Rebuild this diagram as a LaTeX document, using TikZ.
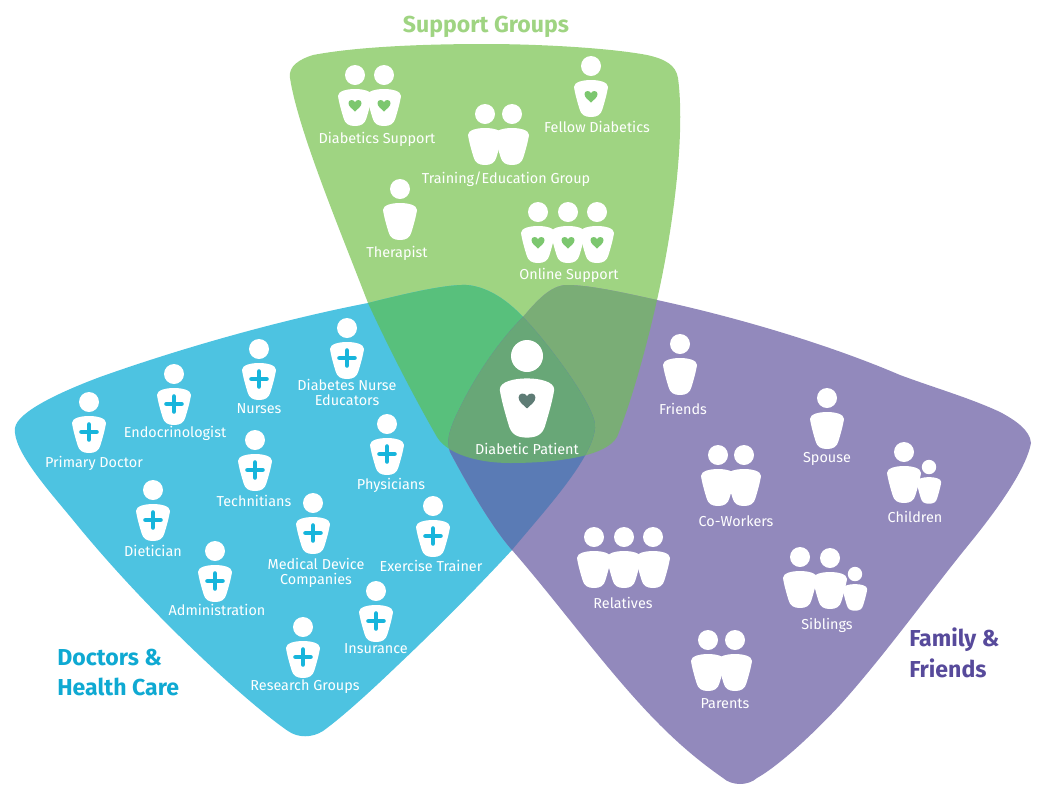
\documentclass[tikz,border=0pt]{standalone}
\usepackage{fontspec}
\setmainfont{Fira Sans}
\usepackage{xcolor}
\definecolor{verde}{HTML}{9FD482}
\definecolor{azzurro}{HTML}{4DC3E1}
\definecolor{viola}{HTML}{9289BC}
\definecolor{verdeazz}{HTML}{58C07C}
\definecolor{verdevio}{HTML}{7AAD76}
\definecolor{azzvio}{HTML}{5A7BB5}
\definecolor{centro}{HTML}{68A777}
\definecolor{croce}{HTML}{17B5DC}
\definecolor{cuoregreen}{HTML}{7CC76F}
\definecolor{cuorecentro}{HTML}{5E7C75}
\definecolor{titblue}{HTML}{0FA9D2}
\definecolor{titviola}{HTML}{574A9B}
\begin{document}
\begin{tikzpicture}[x=0.75pt,y=-0.75pt]
%===DEF. COMPONENTS====
\def\persona(#1,#2,#3){
 \begin{scope}[shift={(#1,#2)},scale=#3]
 \fill[white] (0,0) circle[radius=10];
 \fill[white] (-17,21) .. controls (-17,16) and (-8,14) .. (0,14) .. controls (8,14) and (17,16) .. (17,21)
 .. controls (16,28) and (13,38) .. (11.5,43) .. controls (10,49) and (6,51) .. (0,51)
 .. controls (-6,51) and (-10,49) .. (-11.5,43) .. controls (-13,38) and (-16,28) .. (-17,21) -- cycle;
 \end{scope}
}
\def\cuore(#1,#2,#3,#4){
 \begin{scope}[shift={(#1,#2)},scale=#3]
 \fill[#4] (0,36.5) .. controls (-3,33.5) and (-6.5,31.5) .. (-6.5,28) .. controls (-6.5,24.5) and (-1.5,24) .. (0,27)
 .. controls (1.5,24) and (6.5,24.5) .. (6.5,28) .. controls (6.5,31.5) and (3,33.5) .. (0,36.5) -- cycle;
 \end{scope}
}
\def\medico(#1,#2){
 \persona(#1,#2,1)
 \begin{scope}[shift={(#1,#2)}]
 \draw[croce,line width=3.4pt,line cap=round] (-7.5,30) -- (7.5,30);
 \draw[croce,line width=3.4pt,line cap=round] (0,22.5) -- (0,37.5);
 \end{scope}
}
\def\amico(#1,#2){
 \persona(#1,#2,1)
 \cuore(#1,#2,1,cuoregreen)
}
%===zones===
\def\zonagreen{(290,78) .. controls (288,66) and (300,59) .. (313,55) .. controls (355,47) and (420,44) .. (485,44)
 .. controls (540,44) and (610,48) .. (647,55) .. controls (665,59) and (676,65) .. (678,78)
 .. controls (685,130) and (675,220) .. (657,300) .. controls (647,345) and (632,400) .. (617,437)
 .. controls (605,458) and (550,463) .. (510,463) .. controls (480,463) and (448,455) .. (437,437)
 .. controls (410,390) and (385,340) .. (368,303) .. controls (340,230) and (298,130) .. (290,78) -- cycle}
\def\zonablue{(15,428) .. controls (17,412) and (60,392) .. (100,377) .. controls (190,345) and (290,318) .. (368,303)
 .. controls (400,295) and (445,284) .. (467,285) .. controls (490,287) and (510,303) .. (523,317)
 .. controls (550,345) and (598,410) .. (595,428) .. controls (592,460) and (545,510) .. (512,550)
 .. controls (475,590) and (435,630) .. (398,665) .. controls (375,687) and (345,715) .. (323,731)
 .. controls (312,738) and (298,738) .. (288,731) .. controls (250,705) and (150,615) .. (73,520)
 .. controls (50,492) and (12,450) .. (15,428) -- cycle}
\def\zonaviola{(567,285) .. controls (590,285) and (625,293) .. (657,300) .. controls (740,318) and (830,345) .. (900,375)
 .. controls (935,388) and (970,398) .. (1000,412) .. controls (1015,420) and (1030,430) .. (1031,443)
 .. controls (1027,465) and (1005,500) .. (970,543)
 .. controls (930,592) and (885,655) .. (840,705) .. controls (815,732) and (780,765) .. (757,778)
 .. controls (748,786) and (732,786) .. (723,778) .. controls (700,762) and (680,745) .. (660,725)
 .. controls (610,675) and (560,605) .. (512,550)
 .. controls (490,525) and (465,480) .. (450,452) .. controls (446,440) and (450,430) .. (455,418)
 .. controls (470,385) and (495,345) .. (523,317) .. controls (535,303) and (550,285) .. (567,285) -- cycle}
\tikzset{nome/.style={text=white,font=\fontsize{10.8pt}{11.2pt}\selectfont,inner sep=0pt,align=center},
 titolo/.style={font=\fontsize{17.3pt}{17.3pt}\selectfont\bfseries,inner sep=0pt,anchor=west}}
\useasboundingbox (0,0) rectangle (1051,794);
\fill[verde] \zonagreen;
\fill[azzurro] \zonablue;
\fill[viola] \zonaviola;
%===overlaps===
\begin{scope}
 \clip \zonagreen;
 \fill[verdeazz] \zonablue;
 \fill[verdevio] \zonaviola;
\end{scope}
\begin{scope}
 \clip \zonablue;
 \fill[azzvio] \zonaviola;
\end{scope}
\begin{scope}
 \clip \zonagreen;
 \clip \zonablue;
 \fill[centro] \zonaviola;
\end{scope}
%===support groups===
\amico(384,75) \amico(355,75)
\amico(591,66)
\persona(485,114,1) \persona(512,114,1)
\persona(400,189,1)
\amico(538,212) \amico(568,212) \amico(597,212)
%===doctors===
\medico(89,402) \medico(174,374) \medico(259,349) \medico(347,328)
\medico(255,440) \medico(387,424) \medico(153,490) \medico(313,503)
\medico(433,506) \medico(215,551) \medico(376,591) \medico(303,627)
%===family===
\persona(680,344,1) \persona(827,398,1)
\persona(904,452,1) \persona(929,467,0.72)
\persona(718,455,1) \persona(744,455,1)
\persona(594,537,1) \persona(624,537,1) \persona(653,537,1)
\persona(800,557,1) \persona(830,558,1) \persona(855,574,0.72)
\persona(708,640,1) \persona(735,640,1)
%===patient===
\persona(527,356,1.6)
\cuore(527,361,1.3,cuorecentro)
%===texts===
\node[nome] (diabsupport) at (377,139) {Diabetics Support};
\node[nome] (fellow) at (597,127) {Fellow Diabetics};
\node[nome] (training) at (506,179) {Training/Education Group};
\node[nome] (therapist) at (397,253) {Therapist};
\node[nome] (online) at (569,275) {Online Support};
\node[nome] (patient) at (527,449) {Diabetic Patient};
\node[nome] (primary) at (94,463) {Primary Doctor};
\node[nome] (endo) at (175,433) {Endocrinologist};
\node[nome] (nurses) at (259,409) {Nurses};
\node[nome] (educators) at (347,392.5) {Diabetes Nurse\\Educators};
\node[nome] (tech) at (254,501) {Technitians};
\node[nome] (phys) at (391,485) {Physicians};
\node[nome] (dietician) at (153,551) {Dietician};
\node[nome] (device) at (316,572.5) {Medical Device\\Companies};
\node[nome] (trainer) at (431,566) {Exercise Trainer};
\node[nome] (admin) at (217,610) {Administration};
\node[nome] (insurance) at (376,649) {Insurance};
\node[nome] (research) at (305,687) {Research Groups};
\node[nome] (friends) at (683,409) {Friends};
\node[nome] (spouse) at (827,459) {Spouse};
\node[nome] (children) at (915,517) {Children};
\node[nome] (coworkers) at (736,521) {Co-Workers};
\node[nome] (relatives) at (623,603) {Relatives};
\node[nome] (siblings) at (827,625) {Siblings};
\node[nome] (parents) at (725,704) {Parents};
%===titles===
\node[titolo,text=verde,anchor=center] (tgreen) at (486,27) {Support Groups};
\node[titolo,text=titblue] (tblue1) at (57,657) {Doctors \&};
\node[titolo,text=titblue] (tblue2) at (57,687) {Health Care};
\node[titolo,text=titviola] (tviola1) at (909,640) {Family \&};
\node[titolo,text=titviola] (tviola2) at (909,668) {Friends};
\end{tikzpicture}
\end{document}
